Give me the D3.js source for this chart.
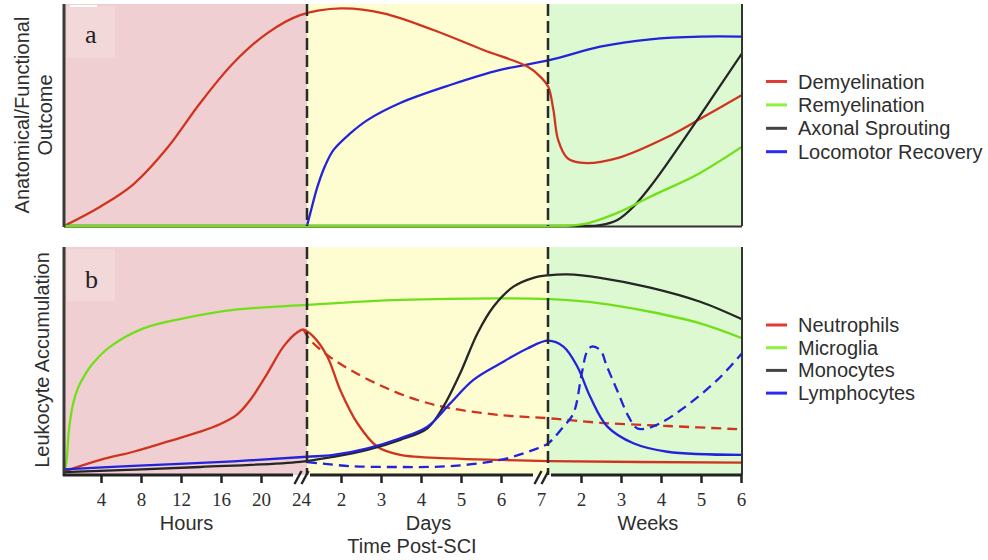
<!DOCTYPE html>
<html>
<head>
<meta charset="utf-8">
<script src="https://cdn.jsdelivr.net/npm/d3@7"></script>
<style>
  body { margin: 0; background: #fff; }
  svg { display: block; }
</style>
</head>
<body>
<svg id="chart" width="988" height="560"></svg>
<script>
// Composite time axis in "step" units: hours 0–24 → 0–6 (one step per 4 h),
// days 1–7 → 6–12 (one step per day), weeks 1–6 → 12–17 (one step per week).
const hourTicks = [4, 8, 12, 16, 20, 24];
const dayTicks = [2, 3, 4, 5, 6, 7];
const weekTicks = [2, 3, 4, 5, 6];
const periodNames = ["Hours", "Days", "Weeks"];
const periodEdges = [0.075, 6.15, 12.175, 17.025];

// Panel a — anatomical / functional outcome, [step, level 0–100]
const demyelination = [[0.075,0],[0.98,8.7],[1.81,18.8],[2.66,35.2],[3.48,55.4],[4.31,73.4],[5.16,86.9],[5.98,95],[7.0,98],[8.06,95.8],[9.31,88.3],[10.56,79.3],[11.66,71.8],[11.98,67.3],[12.18,62.7],[12.31,52.3],[12.43,38.7],[12.66,30.6],[13.06,28.4],[13.91,30.6],[15.16,40.1],[16.06,49.1],[17.025,59]];
const remyelination = [[0.075,0],[12.6,0],[13.06,0.8],[13.91,5.9],[14.73,13.2],[15.98,23.9],[17.025,35.7]];
const axonalSprouting = [[0.075,0],[13.2,0],[13.48,0.4],[13.91,2.7],[14.31,8.7],[14.73,17.7],[15.56,38.7],[16.41,61.3],[17.025,77.8]];
const locomotorRecovery = [[6.15,0],[6.25,7],[6.41,17.6],[6.6,27],[6.81,34.2],[7.23,41.7],[7.66,47.7],[8.48,55.4],[9.73,63.5],[10.98,70.3],[12.23,74.8],[13.48,80.8],[14.73,84.1],[15.98,85.3],[17.025,85.3]];

// Panel b — leukocyte accumulation, [step, level 0–100]
const microglia = [[0.075,1],[0.13,5],[0.2,20],[0.3,31],[0.42,38],[0.6,44],[0.8,49],[1.23,56.3],[2.06,64.3],[3.06,68.7],[4.31,72.4],[6.15,74.6],[8.48,76.8],[10.98,77.5],[12.23,77.1],[13.48,75.3],[14.73,71.6],[15.98,66.5],[17.025,60]];
const neutrophils = [[0.075,1.5],[0.98,6.6],[1.81,10.2],[2.66,14.6],[3.48,19],[4.0,22.5],[4.4,26.5],[4.73,32.9],[5.16,44.6],[5.56,56.3],[5.9,62.5],[6.06,63.8],[6.31,60.7],[6.66,51.9],[6.98,37.3],[7.41,22.7],[7.91,12.4],[8.48,8.8],[9.73,7.3],[10.98,6.6],[12.18,6.1],[17.025,5.4]];
const neutrophilsAlt = [[6.06,63.8],[6.23,59.2],[6.66,52.6],[7.23,46.1],[8.06,38.7],[8.91,32.9],[9.73,29.3],[10.98,26.3],[12.18,24.9],[13.48,22.9],[15.16,21.5],[17.025,20]];
const monocytes = [[0.075,1.3],[3.48,3.5],[5.98,5.8],[6.81,8],[7.66,11],[8.48,15.4],[9.16,20.5],[9.56,30],[9.98,44.6],[10.41,62.1],[10.81,73.8],[11.31,82.6],[11.81,86.5],[12.18,87.6],[12.66,88],[13.48,86.5],[14.73,82.2],[15.98,76],[17.025,68.3]];
const lymphocytes = [[0.075,2.5],[1.81,4],[4.31,6],[6.15,8],[6.81,8.8],[7.66,11.7],[8.48,16.1],[9.16,21.2],[9.73,31.4],[10.31,41.7],[10.98,48.9],[11.66,55.5],[12.18,58.9],[12.56,56.3],[12.91,47.5],[13.23,34.3],[13.66,21.2],[14.31,13.9],[15.16,10.2],[17.025,8.8]];
const lymphocytesAlt = [[6.15,5.7],[7.23,3.9],[8.48,3.5],[9.73,3.9],[10.98,6.6],[11.81,11],[12.18,13.9],[12.55,21],[12.81,27],[13.02,44.6],[13.15,54.1],[13.27,56.3],[13.48,54.8],[13.65,47.5],[13.9,37.3],[14.19,25.6],[14.4,20.5],[14.65,20.5],[14.98,22.7],[15.56,29.3],[16.41,41.7],[17.025,53.4]];

const legendA = ["Demyelination", "Remyelination", "Axonal Sprouting", "Locomotor Recovery"];
const legendB = ["Neutrophils", "Microglia", "Monocytes", "Lymphocytes"];

// ---- styling ----
const C = {
  red: "#cf3420", green: "#72e018", black: "#262626", blue: "#2323dc",
  legRed: "#e23b35", legGreen: "#8cf23c", legBlack: "#444", legBlue: "#2b2bf2",
  text: "#2e2e2e"
};
const periodFills = ["#efcfd1", "#fefdd2", "#ddf9d2"];
const sans = "'Liberation Sans', Arial, sans-serif";
const serif = "'Liberation Serif', 'Times New Roman', serif";

const svg = d3.select("#chart");
const defs = svg.append("defs");
const x = d3.scaleLinear().domain([0, 17]).range([61, 741]);

const panels = [
  { id: "a", y: d3.scaleLinear().domain([0, 100]).range([226, 4]), top: 4, bottom: 226 },
  { id: "b", y: d3.scaleLinear().domain([0, 100]).range([475, 247]), top: 247, bottom: 475 }
];
const left = x(periodEdges[0]), right = x(periodEdges[3]);

panels.forEach(p => {
  const g = svg.append("g");
  // period backgrounds
  g.selectAll("rect.bg").data(periodNames).join("rect")
    .attr("x", (d, i) => x(periodEdges[i]))
    .attr("width", (d, i) => x(periodEdges[i + 1]) - x(periodEdges[i]))
    .attr("y", p.top).attr("height", p.bottom - p.top)
    .attr("fill", (d, i) => periodFills[i]);
  // soft box behind panel letter
  g.append("rect").attr("x", left + 3).attr("y", p.top + 2)
    .attr("width", 48).attr("height", 52).attr("fill", "#f4dcdc").attr("opacity", 0.7);
  g.append("text").text(p.id)
    .attr("x", left + 21).attr("y", p.id === "a" ? 43 : 288)
    .attr("font-family", serif).attr("font-size", 26).attr("fill", "#222");
  p.g = g;
  p.clip = "clip" + p.id;
  defs.append("clipPath").attr("id", p.clip).append("rect")
    .attr("x", left).attr("y", p.top).attr("width", right - left).attr("height", p.bottom - p.top + 2);
});

// small white tick mark at the top-left corner of panel a
panels[0].g.append("line").attr("x1", left + 6).attr("x2", left + 33)
  .attr("y1", 6).attr("y2", 6).attr("stroke", "#fff").attr("stroke-width", 2);

// bottom line of panel a
panels[0].g.append("line").attr("x1", left).attr("x2", right)
  .attr("y1", 226.5).attr("y2", 226.5).attr("stroke", "#333").attr("stroke-width", 2);

// faint multicoloured trace along the bottom of the weeks period in panel b
const grad = defs.append("linearGradient").attr("id", "baseTrace");
[["0%", "#e8f8e0"], ["35%", "#1e2a10"], ["60%", "#7aee20"], ["85%", "#b03a10"], ["100%", "#7a2a10"]]
  .forEach(s => grad.append("stop").attr("offset", s[0]).attr("stop-color", s[1]));
panels[1].g.append("line")
  .attr("x1", x(periodEdges[2]) + 10).attr("x2", right)
  .attr("y1", 472).attr("y2", 472).attr("stroke", "url(#baseTrace)").attr("stroke-width", 2);

function drawLine(p, data, color, dashed, curve) {
  const line = d3.line().x(d => x(d[0])).y(d => p.y(d[1]))
    .curve(curve || d3.curveCatmullRom.alpha(0.5));
  p.g.append("path").datum(data)
    .attr("clip-path", `url(#${p.clip})`)
    .attr("d", line).attr("fill", "none")
    .attr("stroke", color).attr("stroke-width", 2.3)
    .attr("stroke-linejoin", "round")
    .attr("stroke-dasharray", dashed ? "10,6" : null);
}

const pa = panels[0], pb = panels[1];
drawLine(pa, locomotorRecovery, C.blue);
drawLine(pa, demyelination, C.red);
drawLine(pa, axonalSprouting, C.black, false, d3.curveMonotoneX);
drawLine(pa, remyelination, C.green, false, d3.curveMonotoneX);

drawLine(pb, microglia, C.green);
drawLine(pb, neutrophilsAlt, C.red, true);
drawLine(pb, neutrophils, C.red);
drawLine(pb, monocytes, C.black);
drawLine(pb, lymphocytesAlt, C.blue, true);
drawLine(pb, lymphocytes, C.blue);

// dividers and frame edges
panels.forEach(p => {
  [periodEdges[1], periodEdges[2]].forEach(e => {
    p.g.append("line").attr("x1", x(e)).attr("x2", x(e))
      .attr("y1", p.top).attr("y2", p.bottom)
      .attr("stroke", "#2a2a2a").attr("stroke-width", 2.5).attr("stroke-dasharray", "12,5");
  });
  p.g.append("line").attr("x1", left).attr("x2", left).attr("y1", p.top).attr("y2", p.bottom + 1)
    .attr("stroke", "#3a3a3a").attr("stroke-width", 3);
  p.g.append("line").attr("x1", right).attr("x2", right).attr("y1", p.top).attr("y2", p.bottom)
    .attr("stroke", "#333").attr("stroke-width", 2);
});

// ---- time axis ----
const tickSteps = [
  ...hourTicks.map(h => h / 4),
  ...dayTicks.map(d => 6 + (d - 1)),
  ...weekTicks.map(w => 12 + (w - 1))
];
const tickLabels = [...hourTicks, ...dayTicks, ...weekTicks];
const breakSteps = [hourTicks[hourTicks.length - 1] / 4, 6 + (dayTicks[dayTicks.length - 1] - 1)];

const axisY = 475;
const axis = d3.axisBottom(x)
  .tickValues(tickSteps)
  .tickFormat((d, i) => tickLabels[i])
  .tickSizeInner(8).tickSizeOuter(0).tickPadding(10);
const ag = svg.append("g").attr("transform", `translate(0,${axisY})`).call(axis);
ag.select(".domain").remove();
ag.selectAll(".tick line").attr("stroke", "#222").attr("stroke-width", 2.5)
  .attr("display", d => breakSteps.includes(d) ? "none" : null);
ag.selectAll(".tick text").attr("font-family", serif).attr("font-size", 19).attr("fill", C.text);

// axis line with breaks
const segs = [[left - 1, x(breakSteps[0]) - 8], [x(breakSteps[0]) + 9, x(breakSteps[1]) - 8], [x(breakSteps[1]) + 10, right]];
segs.forEach(s => {
  ag.append("line").attr("x1", s[0]).attr("x2", s[1]).attr("y1", 0).attr("y2", 0)
    .attr("stroke", "#222").attr("stroke-width", 3);
});
breakSteps.forEach(b => {
  const cx = x(b) + 1;
  [-4, 3].forEach(off => {
    ag.append("line")
      .attr("x1", cx + off - 3.5).attr("y1", 9).attr("x2", cx + off + 3.5).attr("y2", -4)
      .attr("stroke", "#222").attr("stroke-width", 2.4);
  });
});

// period labels
periodNames.forEach((n, i) => {
  svg.append("text").text(n)
    .attr("x", (x(periodEdges[i]) + x(periodEdges[i + 1])) / 2 + (i === 2 ? 3 : 1))
    .attr("y", 530).attr("text-anchor", "middle")
    .attr("font-family", sans).attr("font-size", 20).attr("fill", C.text);
});
svg.append("text").text("Time Post-SCI")
  .attr("x", 412).attr("y", 553).attr("text-anchor", "middle")
  .attr("font-family", sans).attr("font-size", 20).attr("fill", C.text);

// y titles
function yTitle(lines, cy) {
  lines.forEach(l => {
    svg.append("text").text(l.t)
      .attr("transform", `translate(${l.x},${cy}) rotate(-90)`)
      .attr("text-anchor", "middle")
      .attr("font-family", sans).attr("font-size", 20).attr("fill", C.text);
  });
}
yTitle([{ t: "Anatomical/Functional", x: 29 }, { t: "Outcome", x: 52 }], 115);
yTitle([{ t: "Leukocyte Accumulation", x: 49 }], 360);

// legends
function legend(items, colors, y0, step) {
  items.forEach((t, i) => {
    const y = y0 + i * step;
    svg.append("line").attr("x1", 766).attr("x2", 787).attr("y1", y).attr("y2", y)
      .attr("stroke", colors[i]).attr("stroke-width", 3);
    svg.append("text").text(t).attr("x", 798).attr("y", y).attr("dy", "0.35em")
      .attr("font-family", sans).attr("font-size", 20).attr("fill", C.text);
  });
}
legend(legendA, [C.legRed, C.legGreen, C.legBlack, C.legBlue], 81.5, 23.4);
legend(legendB, [C.legRed, C.legGreen, C.legBlack, C.legBlue], 325, 22.7);
</script>
</body>
</html>
